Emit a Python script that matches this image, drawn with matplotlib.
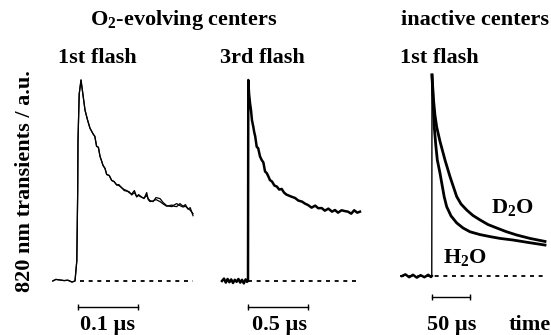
import matplotlib
matplotlib.use("Agg")
import matplotlib.pyplot as plt

plt.rcParams['font.family'] = ['Liberation Serif', 'DejaVu Serif']
plt.rcParams['font.weight'] = 'bold'
plt.rcParams['mathtext.fontset'] = 'custom'
plt.rcParams['mathtext.rm'] = 'Liberation Serif:bold'
plt.rcParams['mathtext.it'] = 'Liberation Serif:bold'
plt.rcParams['mathtext.bf'] = 'Liberation Serif:bold'

# ---- data, time in each panel's own unit, signal in a.u.
# O2-evolving centers, 1st flash (time / us)
t1 = [-0.042, -0.037, -0.030, -0.023, -0.017, -0.010, -0.005, -0.002, -0.0005, 0.0, 0.002, 0.005,
      0.0117, 0.016, 0.020, 0.0255, 0.028, 0.031, 0.034, 0.0367, 0.039, 0.0417, 0.045, 0.0478,
      0.052, 0.0562, 0.060, 0.0645, 0.068, 0.0728, 0.077, 0.0812, 0.085, 0.0895, 0.094, 0.0978,
      0.101, 0.105, 0.110, 0.1145, 0.117, 0.120, 0.125, 0.130, 0.1367, 0.142, 0.1478, 0.152,
      0.1567, 0.160, 0.1645, 0.170, 0.175, 0.179, 0.1833, 0.187, 0.1917]
a1a = [0.0, 0.008, 0.005, 0.002, 0.004, -0.005, 0.0, 0.10, 0.45, 0.70, 0.93, 1.0,
       0.85, 0.80, 0.76, 0.73, 0.72, 0.67, 0.665, 0.62, 0.60, 0.575, 0.56, 0.53,
       0.525, 0.50, 0.495, 0.478, 0.48, 0.463, 0.455, 0.450, 0.44, 0.433, 0.45, 0.418,
       0.43, 0.420, 0.410, 0.440, 0.405, 0.395, 0.398, 0.405, 0.395, 0.383, 0.372, 0.375,
       0.378, 0.372, 0.370, 0.385, 0.372, 0.380, 0.358, 0.365, 0.325]
a1b = [0.0, 0.008, 0.005, 0.002, 0.004, -0.005, 0.0, 0.10, 0.45, 0.70, 0.93, 1.0,
       0.85, 0.80, 0.76, 0.73, 0.72, 0.67, 0.665, 0.62, 0.60, 0.575, 0.56, 0.53,
       0.525, 0.50, 0.495, 0.478, 0.475, 0.465, 0.450, 0.447, 0.445, 0.428, 0.44, 0.420,
       0.425, 0.418, 0.412, 0.425, 0.410, 0.400, 0.395, 0.415, 0.410, 0.390, 0.375, 0.372,
       0.370, 0.378, 0.385, 0.375, 0.368, 0.372, 0.360, 0.352, 0.335]

# O2-evolving centers, 3rd flash (time / us)
t2 = [-0.217, -0.20, -0.185, -0.17, -0.155, -0.14, -0.125, -0.11, -0.095, -0.08, -0.065, -0.05,
      -0.035, -0.02, -0.008, 0.0, 0.0025, 0.009, 0.0167, 0.025, 0.033, 0.044, 0.052, 0.060,
      0.0725, 0.085, 0.100, 0.114, 0.128, 0.142, 0.156, 0.170, 0.183, 0.20, 0.22, 0.24,
      0.26, 0.281, 0.30, 0.32, 0.34, 0.36, 0.392, 0.42, 0.45, 0.475, 0.50, 0.53, 0.56,
      0.585, 0.614, 0.64, 0.67, 0.70, 0.725, 0.75, 0.78, 0.805, 0.833, 0.86, 0.885, 0.91, 0.933]
a2 = [0.0, 0.012, -0.008, 0.010, -0.006, 0.008, -0.010, 0.006, -0.004, 0.010, -0.008, 0.006,
      -0.012, 0.008, -0.004, 0.0, 1.0, 0.93, 0.886, 0.85, 0.80, 0.768, 0.74, 0.72,
      0.668, 0.66, 0.62, 0.602, 0.59, 0.545, 0.537, 0.52, 0.502, 0.495, 0.475, 0.47,
      0.455, 0.458, 0.44, 0.43, 0.425, 0.42, 0.413, 0.40, 0.395, 0.385, 0.378, 0.365, 0.375,
      0.362, 0.363, 0.35, 0.36, 0.345, 0.353, 0.34, 0.352, 0.348, 0.345, 0.335, 0.352, 0.34, 0.345]

# inactive centers, 1st flash (time / us)
t3_base = [-39.5, -35, -30, -25, -20, -15, -10, -5, -1.3, -0.3]
a3_base = [0.0, 0.008, -0.006, 0.006, -0.008, 0.004, -0.006, 0.006, -0.005, 0.0]
t3_h2o = [0.0, 1.3, 3.0, 5.0, 7.0, 10.5, 12.8, 16.0, 19.3, 25.0, 32.5, 40.8, 50.0, 63.2, 76.3,
          89.5, 106.6, 126.3, 148.7]
a3_h2o = [1.0, 0.876, 0.741, 0.650, 0.577, 0.512, 0.463, 0.395, 0.345, 0.299, 0.264, 0.239,
          0.220, 0.206, 0.196, 0.187, 0.179, 0.167, 0.154]
t3_d2o = [0.0, 2.0, 3.9, 6.2, 10.5, 17.1, 23.7, 32.5, 38.2, 45.7, 53.9, 63.2, 73.7, 85.1, 97.4,
          111.4, 128.9, 148.7]
a3_d2o = [1.0, 0.876, 0.800, 0.741, 0.670, 0.577, 0.494, 0.395, 0.358, 0.328, 0.301, 0.279,
          0.256, 0.239, 0.221, 0.204, 0.187, 0.172]

scale_bars = [0.1, 0.5, 50]
scale_labels = ['0.1 µs', '0.5 µs', '50 µs']

W, H = 551, 335
fig = plt.figure(figsize=(W / 100, H / 100), dpi=100)


def panel(x0, x1, t_zero, px_per_unit, y_base, y_peak):
    # axes spanning full figure height, placed in pixel columns x0..x1
    ax = fig.add_axes([x0 / W, 0, (x1 - x0) / W, 1])
    ax.set_xlim((x0 - t_zero) / px_per_unit, (x1 - t_zero) / px_per_unit)
    amp = y_base - y_peak
    ax.set_ylim((y_base - H) / amp, y_base / amp)
    ax.axis('off')
    return ax


ax1 = panel(40, 205, 78, 600, 281, 80)
ax2 = panel(205, 385, 248, 120, 281, 80)
ax3 = panel(385, 551, 432, 0.76, 276, 75)

dash = (0, (2.2, 2.6))
ax1.plot(t1, a1a, color='black', lw=0.9)
ax1.plot(t1, a1b, color='black', lw=0.9)
ax1.plot([0.003, t1[-1]], [0, 0], color='black', lw=1.3, ls=dash)

ax2.plot(t2, a2, color='black', lw=1.8)
ax2.plot([0.0, t2[-1]], [0, 0], color='black', lw=1.3, ls=dash)

ax3.plot(t3_base, a3_base, color='black', lw=1.8)
ax3.plot([t3_base[-1], t3_h2o[0]], [a3_base[-1], a3_h2o[0]], color='black', lw=1.0)
ax3.plot(t3_h2o, a3_h2o, color='black', lw=2.0)
ax3.plot(t3_d2o, a3_d2o, color='black', lw=2.0)
ax3.plot([-42, t3_h2o[-1]], [0, 0], color='black', lw=1.3, ls=dash)

# scale bars
for ax, length, ybar in zip([ax1, ax2, ax3], scale_bars, [-0.129, -0.129, -0.104]):
    ax.plot([0, length], [ybar, ybar], color='black', lw=1.0, marker='|', ms=4, mew=1.0)

fs = 16
fig.text(184 / W, 1 - 20 / H, r'O$_2$-evolving centers', ha='center', va='center', fontsize=fs)
fig.text(475 / W, 1 - 20 / H, 'inactive centers', ha='center', va='center', fontsize=fs)
fig.text(97 / W, 1 - 58 / H, '1st flash', ha='center', va='center', fontsize=fs)
fig.text(262 / W, 1 - 58 / H, '3rd flash', ha='center', va='center', fontsize=fs)
fig.text(439 / W, 1 - 58 / H, '1st flash', ha='center', va='center', fontsize=fs)
fig.text(25 / W, 1 - 181 / H, '820 nm transients / a.u.', ha='center', va='center',
         rotation=90, fontsize=fs)
for xc, lab in zip([108, 280, 452], scale_labels):
    fig.text(xc / W, 1 - 325 / H, lab, ha='center', va='center', fontsize=fs)
fig.text(530 / W, 1 - 325 / H, 'time', ha='center', va='center', fontsize=fs)
fig.text(512 / W, 1 - 208 / H, r'D$_2$O', ha='center', va='center', fontsize=fs)
fig.text(465 / W, 1 - 257 / H, r'H$_2$O', ha='center', va='center', fontsize=fs)

fig.savefig('out.png', dpi=100)
